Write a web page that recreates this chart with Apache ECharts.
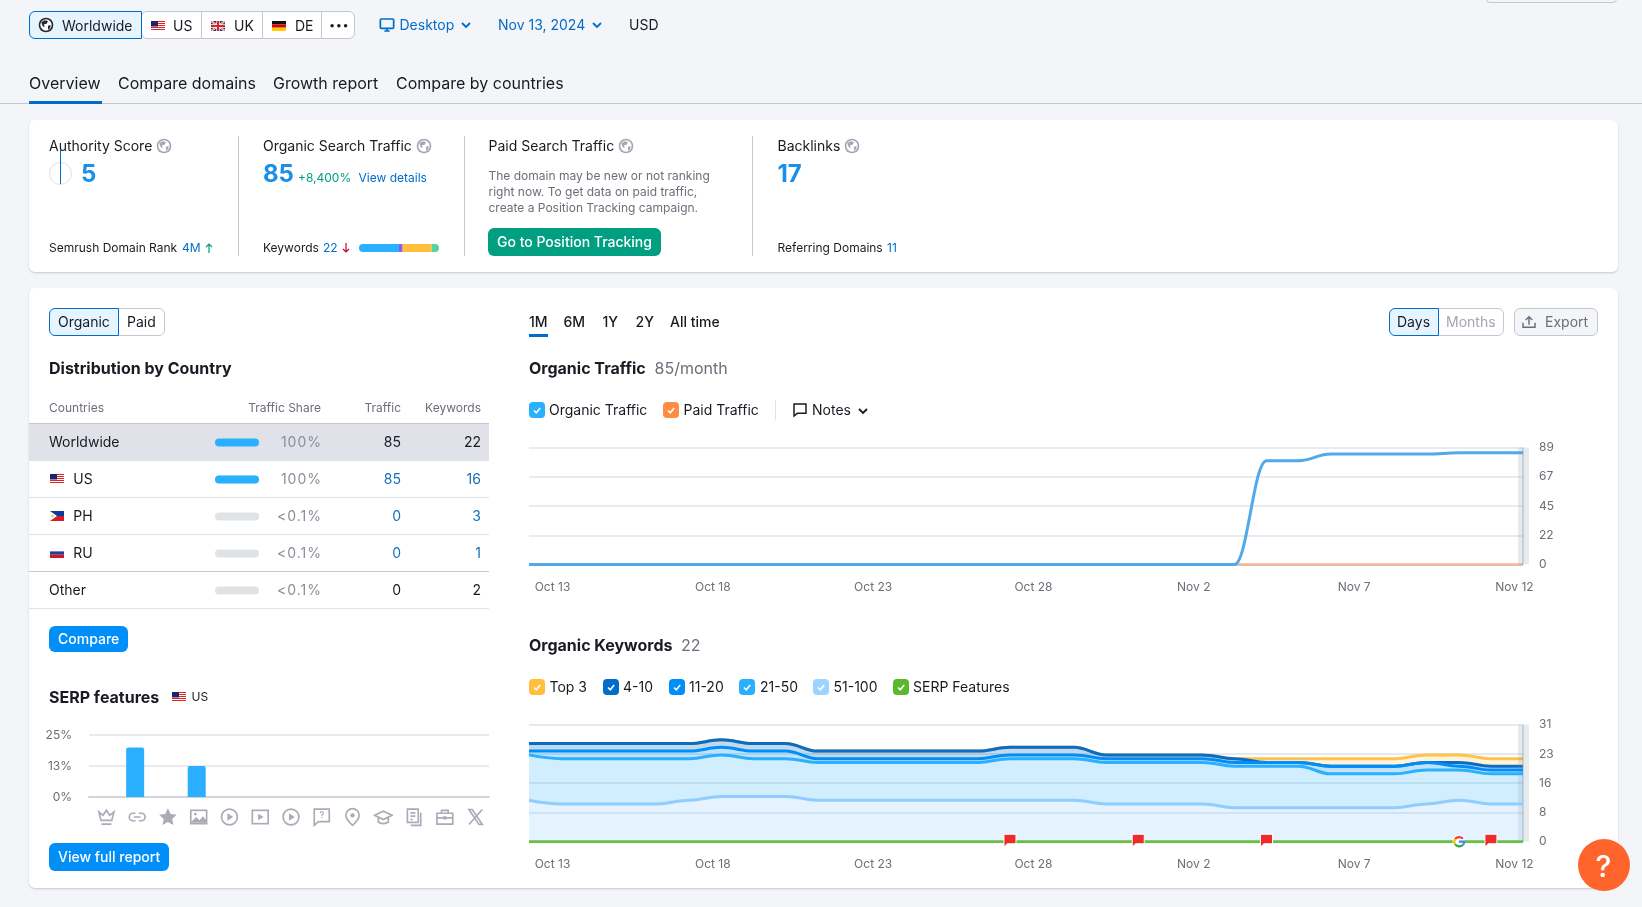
<!DOCTYPE html>
<html>
<head>
<meta charset="utf-8">
<title>Domain overview</title>
<script src="https://cdn.jsdelivr.net/npm/echarts@6/dist/echarts.min.js"></script>
<style>
html, body { margin: 0; padding: 0; width: 1642px; height: 907px; overflow: hidden; background: #f4f5f9; font-family: Inter, "Noto Sans", sans-serif; color: #191b23; }
#main { position: absolute; left: 0; top: 0; width: 1642px; height: 907px; z-index: 2; }
.b { position: absolute; box-sizing: border-box; z-index: 1; }
.t { position: absolute; white-space: nowrap; z-index: 3; line-height: 1; transform: translateY(-50%); }
.i { position: absolute; z-index: 3; }
.i svg { display: block; }
</style>
</head>
<body>
<div id="main"></div>
<script>
var days = ['Oct 13', 'Oct 14', 'Oct 15', 'Oct 16', 'Oct 17', 'Oct 18', 'Oct 19', 'Oct 20', 'Oct 21', 'Oct 22', 'Oct 23', 'Oct 24', 'Oct 25', 'Oct 26', 'Oct 27', 'Oct 28', 'Oct 29', 'Oct 30', 'Oct 31', 'Nov 1', 'Nov 2', 'Nov 3', 'Nov 4', 'Nov 5', 'Nov 6', 'Nov 7', 'Nov 8', 'Nov 9', 'Nov 10', 'Nov 11', 'Nov 12', 'Nov 13'];
var organicTraffic = [0, 0, 0, 0, 0, 0, 0, 0, 0, 0, 0, 0, 0, 0, 0, 0, 0, 0, 0, 0, 0, 0, 0, 79, 79, 84, 84, 84, 84, 85, 85, 85];
var paidTraffic = [0, 0, 0, 0, 0, 0, 0, 0, 0, 0, 0, 0, 0, 0, 0, 0, 0, 0, 0, 0, 0, 0, 0, 0, 0, 0, 0, 0, 0, 0, 0, 0];
var kwTop3 = [0, 0, 0, 0, 0, 0, 0, 0, 0, 0, 0, 0, 0, 0, 0, 0, 0, 0, 0, 0, 0, 0, 0, 1, 1, 2, 2, 2, 2, 2, 2, 2];
var kw4to10 = [2, 2, 2, 2, 2, 2, 2, 2, 2, 2, 2, 2, 2, 2, 2, 2, 2, 2, 1, 1, 1, 1, 1, 0, 0, 0, 0, 0, 0, 1, 1, 1];
var kw11to20 = [1, 2, 2, 2, 2, 2, 2, 2, 2, 1, 1, 1, 1, 1, 1, 1, 1, 1, 1, 1, 1, 1, 1, 1, 1, 2, 2, 2, 2, 1, 1, 1];
var kw21to50 = [12, 12, 12, 12, 12, 11, 11, 10, 10, 10, 10, 10, 10, 10, 10, 11, 11, 11, 11, 11, 11, 11, 11, 11, 11, 9, 9, 9, 9, 8, 8, 8];
var kw51to100 = [11, 10, 10, 10, 10, 11, 12, 12, 12, 11, 11, 11, 11, 11, 11, 11, 11, 11, 10, 10, 10, 10, 9, 9, 9, 9, 9, 9, 10, 11, 10, 10];
var serpLine = [0, 0, 0, 0, 0, 0, 0, 0, 0, 0, 0, 0, 0, 0, 0, 0, 0, 0, 0, 0, 0, 0, 0, 0, 0, 0, 0, 0, 0, 0, 0, 0];
var noteDays = ['Oct 28', 'Nov 1', 'Nov 5', 'Nov 12'];
var googleDays = ['Nov 11'];
var serpFeatures = ['Featured snippet', 'Sitelinks', 'Reviews', 'Image', 'Video', 'Featured video', 'Trending videos', 'People also ask', 'Local pack', 'Knowledge panel', 'Top stories', 'Jobs', 'X'];
var serpShare = [0, 20, 0, 12.5, 0, 0, 0, 0, 0, 0, 0, 0, 0];
var countries = ['Worldwide', 'US', 'PH', 'RU', 'Other'];
var countryShare = [100, 100, 0.05, 0.05, 0.05];
var countryShareText = ['100%', '100%', '<0.1%', '<0.1%', '<0.1%'];
var countryTraffic = [85, 85, 0, 0, 0];
var countryKeywords = [22, 16, 3, 1, 2];
var keywordMix = [11, 1, 8, 2];
var keywordMixColors = ['#2bafff', '#8b5fe0', '#ffbf3d', '#59d3a0'];

var GRAY = '#6c6e79', BLUE = '#006dca', LINE = '#c4c7cf', LIGHT = '#e0e1e9';

function box(x, y, w, h, style) {
	var d = document.createElement('div');
	d.className = 'b';
	d.style.cssText = 'left:' + x + 'px;top:' + y + 'px;width:' + w + 'px;height:' + h + 'px;' + (style || '');
	document.body.appendChild(d);
}
function text(x, y, s, style) {
	var d = document.createElement('div');
	d.className = 't';
	d.textContent = s;
	d.style.cssText = 'left:' + x + 'px;top:' + y + 'px;font-size:14px;' + (style || '');
	document.body.appendChild(d);
}
function textR(x, y, s, style) {
	text(x, y, s, 'left:auto;right:' + (1642 - x) + 'px;' + (style || ''));
}
function icon(x, y, w, h, inner, vb) {
	var d = document.createElement('div');
	d.className = 'i';
	d.style.cssText = 'left:' + x + 'px;top:' + y + 'px;width:' + w + 'px;height:' + h + 'px;';
	d.innerHTML = '<svg xmlns="http://www.w3.org/2000/svg" width="' + w + '" height="' + h + '" viewBox="' + (vb || '0 0 24 24') + '">' + inner + '</svg>';
	document.body.appendChild(d);
}

var flags = {
	US: '<rect width="14" height="10" fill="#fff"/><path d="M0 .5h14M0 2.5h14M0 4.5h14M0 6.5h14M0 8.5h14" stroke="#d22" stroke-width="1"/><rect width="7" height="5.5" fill="#226"/>',
	UK: '<rect width="14" height="10" fill="#236"/><path d="M0 0l14 10M14 0L0 10" stroke="#fff" stroke-width="2"/><path d="M0 0l14 10M14 0L0 10" stroke="#d22" stroke-width=".7"/><path d="M7 0v10M0 5h14" stroke="#fff" stroke-width="3.4"/><path d="M7 0v10M0 5h14" stroke="#d22" stroke-width="2"/>',
	DE: '<rect width="14" height="3.4" fill="#111"/><rect y="3.4" width="14" height="3.3" fill="#d00"/><rect y="6.7" width="14" height="3.3" fill="#fc0"/>',
	PH: '<rect width="14" height="5" fill="#0a3ca0"/><rect y="5" width="14" height="5" fill="#d2202a"/><path d="M0 0l7 5-7 5z" fill="#fff"/><circle cx="2.4" cy="5" r="1.3" fill="#fc0"/>',
	RU: '<rect width="14" height="3.4" fill="#fff" stroke="#ddd" stroke-width=".3"/><rect y="3.4" width="14" height="3.3" fill="#1c3fa8"/><rect y="6.7" width="14" height="3.3" fill="#d8141e"/>'
};
function flag(code, x, y) {
	icon(x, y, 14, 10, flags[code], '0 0 14 10');
}
function globe(cx, cy, color, size) {
	var inner = '<circle cx="12" cy="12" r="11" fill="' + color + '"/><circle cx="12" cy="12" r="8.500" fill="#fff"/><path d="M5 8l5-3 5 1-2 4-4 1 1 4-3-1zM15 13l4-1-1 5-3 2z" fill="' + color + '"/>';
	icon(cx - size / 2, cy - size / 2, size, size, inner);
}
function checkbox(x, y, color) {
	box(x, y - 8, 16, 16, 'background:' + color + ';border-radius:4px;');
	icon(x + 3, y - 5, 10, 10, '<path d="M2 5.500l2.300 2.300L8.200 3" fill="none" stroke="#fff" stroke-width="1.600"/>', '0 0 10 10');
}
function chevron(x, y, color) {
	icon(x, y - 5, 10, 10, '<path d="M1 3l4 4 4-4" fill="none" stroke="' + color + '" stroke-width="1.800"/>', '0 0 10 10');
}

// page chrome
box(1486, -8, 131, 11, 'background:#f4f5f9;border:1px solid ' + LINE + ';border-radius:4px;');
box(141, 11, 214, 28, 'background:#fff;border:1px solid ' + LINE + ';border-radius:6px;');
box(29, 11, 113, 28, 'background:#e5f4ff;border:1px solid ' + BLUE + ';border-radius:6px 0 0 6px;');
box(201, 12, 1, 26, 'background:' + LINE);
box(262, 12, 1, 26, 'background:' + LINE);
box(321, 12, 1, 26, 'background:' + LINE);
globe(45.5, 25, '#25272f', 16);
text(62, 25.5, 'Worldwide');
flag('US', 151, 21); text(173, 25.5, 'US');
flag('UK', 210.5, 21); text(234, 25.5, 'UK');
flag('DE', 272, 21); text(295, 25.5, 'DE');
text(329, 25, '•••', 'font-size:11px;letter-spacing:.5px;');
icon(379, 16, 16, 18, '<rect x="2" y="3" width="20" height="14" rx="1.500" fill="none" stroke="' + BLUE + '" stroke-width="2.600"/><path d="M8 21h8M12 17v4" stroke="' + BLUE + '" stroke-width="2.600"/>');
text(399.5, 25, 'Desktop', 'color:' + BLUE);
chevron(461, 25, BLUE);
text(498, 25, 'Nov 13, 2024', 'color:' + BLUE);
chevron(592, 25, BLUE);
text(629, 25, 'USD');
text(29, 82.5, 'Overview', 'font-size:16px;');
text(118, 82.5, 'Compare domains', 'font-size:16px;');
text(273, 82.5, 'Growth report', 'font-size:16px;');
text(396, 82.5, 'Compare by countries', 'font-size:16px;');
box(0, 103, 1642, 1, 'background:' + LINE);
box(29, 101, 73, 3, 'background:' + BLUE);

// summary card
box(29, 120, 1589, 152, 'background:#fff;border-radius:6px;box-shadow:0 1px 2px rgba(25,27,35,.2);');
box(238, 136, 1, 120, 'background:' + LINE);
box(463.5, 136, 1, 120, 'background:' + LINE);
box(752, 136, 1, 120, 'background:' + LINE);
text(49, 146, 'Authority Score');
globe(164, 146, '#a4a6b3', 16);
box(49, 161.5, 23, 23, 'border:1px solid #dfe1e7;border-radius:50%;');
box(60.3, 150, 1, 34, 'background:' + BLUE);
text(81, 174, '5', 'font-size:24px;font-weight:700;color:#1a8fe8;');
text(263, 146, 'Organic Search Traffic');
globe(424, 146, '#a4a6b3', 16);
text(263, 174, '85', 'font-size:24px;font-weight:700;color:#1a8fe8;');
text(298, 178, '+8,400%', 'font-size:12px;color:#009f81;');
text(358.5, 178, 'View details', 'font-size:12px;color:' + BLUE);
text(488.5, 146, 'Paid Search Traffic');
globe(626, 146, '#a4a6b3', 16);
text(488.5, 176, 'The domain may be new or not ranking', 'font-size:12px;color:' + GRAY);
text(488.5, 192, 'right now. To get data on paid traffic,', 'font-size:12px;color:' + GRAY);
text(488.5, 208, 'create a Position Tracking campaign.', 'font-size:12px;color:' + GRAY);
box(488, 228, 173, 28, 'background:#009f81;border-radius:6px;');
text(497, 242, 'Go to Position Tracking', 'color:#fff;font-weight:500;');
text(777.5, 146, 'Backlinks');
globe(852, 146, '#a4a6b3', 16);
text(777.5, 174, '17', 'font-size:24px;font-weight:700;color:#1a8fe8;');
text(49, 248, 'Semrush Domain Rank', 'font-size:12px;');
text(182, 248, '4M', 'font-size:12px;color:' + BLUE);
icon(204, 242, 10, 12, '<path d="M5 11V2M2 5l3-3 3 3" fill="none" stroke="#009f81" stroke-width="1.200"/>', '0 0 10 12');
text(263, 248, 'Keywords', 'font-size:12px;');
text(323, 248, '22', 'font-size:12px;color:' + BLUE);
icon(341, 242, 10, 12, '<path d="M5 1v9M2 7l3 3 3-3" fill="none" stroke="#d1002f" stroke-width="1.200"/>', '0 0 10 12');
text(777.5, 248, 'Referring Domains', 'font-size:12px;');
text(887, 248, '11', 'font-size:12px;color:' + BLUE);

// main card
box(29, 287.5, 1589, 600.5, 'background:#fff;border-radius:6px;box-shadow:0 1px 2px rgba(25,27,35,.2);');
box(118, 308, 47, 28, 'border:1px solid ' + LINE + ';border-radius:0 6px 6px 0;');
box(49, 308, 70, 28, 'background:#e5f4ff;border:1px solid ' + BLUE + ';border-radius:6px 0 0 6px;');
text(58, 321.5, 'Organic');
text(127, 321.5, 'Paid');
text(49, 367.5, 'Distribution by Country', 'font-size:16px;font-weight:700;');
text(49, 408, 'Countries', 'font-size:12px;color:' + GRAY);
textR(321, 408, 'Traffic Share', 'font-size:12px;color:' + GRAY);
textR(401, 408, 'Traffic', 'font-size:12px;color:' + GRAY);
textR(481, 408, 'Keywords', 'font-size:12px;color:' + GRAY);
box(29, 423, 460, 1, 'background:' + LINE);
box(29, 424, 460, 37, 'background:' + LIGHT);
[497, 534, 608].forEach(function(y) { box(29, y, 460, 1, 'background:' + LIGHT); });
box(29, 571, 460, 1, 'background:' + LINE);
countries.forEach(function(name, r) {
	var y = 441.5 + r * 37, linked = r > 0 && r < 4;
	if (flags[name]) {
		flag(name, 50, y - 4.5);
		text(73.3, y, name);
	} else {
		text(49, y, name);
	}
	textR(322, y, countryShareText[r], 'color:#8b8d99;letter-spacing:1px;');
	textR(401, y, String(countryTraffic[r]), linked ? 'color:#1a6fbd;' : '');
	textR(481, y, String(countryKeywords[r]), linked ? 'color:#1a6fbd;' : '');
});
box(49, 626, 79, 26, 'background:#008ff8;border-radius:6px;');
text(58, 639, 'Compare', 'color:#fff;font-weight:500;');
text(49, 697, 'SERP features', 'font-size:16px;font-weight:700;');
flag('US', 172, 692);
text(191.5, 697, 'US', 'font-size:12px;');
box(49, 843, 120, 28, 'background:#008ff8;border-radius:6px;');
text(58, 857, 'View full report', 'color:#fff;font-weight:500;');

text(529, 321.5, '1M', 'font-weight:500;');
box(529, 334, 19, 3, 'background:' + BLUE);
text(563.5, 321.5, '6M', 'font-weight:500;');
text(602.5, 321.5, '1Y', 'font-weight:500;');
text(635.5, 321.5, '2Y', 'font-weight:500;');
text(670, 321.5, 'All time', 'font-weight:500;');
box(1438, 308, 66, 28, 'border:1px solid ' + LINE + ';border-radius:0 6px 6px 0;');
box(1388.5, 308, 50, 28, 'background:#e5f4ff;border:1px solid ' + BLUE + ';border-radius:6px 0 0 6px;');
text(1397, 321.5, 'Days');
text(1446, 321.5, 'Months', 'color:#a4a6b3;');
box(1513.5, 308, 84.5, 28, 'background:#f4f5f9;border:1px solid ' + LINE + ';border-radius:6px;');
icon(1521, 314, 16, 16, '<path d="M3 13v7h18v-7M12 16V4M7 9l5-5 5 5" fill="none" stroke="' + GRAY + '" stroke-width="2.200"/>');
text(1545, 321.5, 'Export', 'color:' + GRAY);
text(529, 367.5, 'Organic Traffic', 'font-size:16px;font-weight:700;');
text(654.5, 367.5, '85/month', 'font-size:16px;color:' + GRAY);
checkbox(529, 410, '#2bafff');
text(549, 410, 'Organic Traffic');
checkbox(663, 410, '#ff8c43');
text(683.5, 410, 'Paid Traffic');
box(775, 400, 1, 20, 'background:' + LIGHT);
icon(792, 402, 16, 16, '<path d="M3 3h18v14H8l-5 4z" fill="none" stroke="#191b23" stroke-width="2.200"/>');
text(812, 409.5, 'Notes');
chevron(858, 411, '#191b23');
text(529, 644.5, 'Organic Keywords', 'font-size:16px;font-weight:700;');
text(681, 644.5, '22', 'font-size:16px;color:' + GRAY);
[[529, 549.5, '#ffbf3d', 'Top 3'], [603, 623, '#006dca', '4-10'], [669, 689, '#008ff8', '11-20'], [739, 760, '#2bafff', '21-50'], [813, 833.5, '#9ed2ff', '51-100'], [893, 913, '#59b82c', 'SERP Features']].forEach(function(k) {
	checkbox(k[0], 687, k[2]);
	text(k[1], 687, k[3]);
});
box(1578, 839, 52, 52, 'background:#ff642d;border-radius:50%;z-index:3;');
text(1595.5, 865.5, '?', 'font-size:30px;font-weight:500;color:#fff;');

// SERP icons, used as category labels
var ic = 'fill="none" stroke="#a9abb7" stroke-width="2"';
var serpIcons = [
	'<path d="M3 6l5 4 4-6 4 6 5-4-2.500 10H5.500zM6 20.500h12" ' + ic + '/>',
	'<path d="M10 7.500H7a4.500 4.500 0 000 9h3M14 7.500h3a4.500 4.500 0 010 9h-3M8 12h8" ' + ic + '/>',
	'<path d="M12 1.500l3.200 7 7.300.800-5.400 5 1.500 7.400-6.600-3.700-6.600 3.700 1.500-7.400-5.400-5 7.300-.800z" fill="#a9abb7"/>',
	'<rect x="2.500" y="4" width="19" height="16" ' + ic + '/><path d="M3 18l6-6 4 4 4-5 4 5v3H3z" fill="#a9abb7"/><circle cx="8" cy="8.500" r="1.700" fill="#a9abb7"/>',
	'<circle cx="12" cy="12" r="9.500" ' + ic + '/><path d="M9.500 7.500l7 4.500-7 4.500z" fill="#a9abb7"/>',
	'<rect x="2.500" y="4" width="19" height="16" ' + ic + '/><path d="M9.500 8l6.500 4-6.500 4z" fill="#a9abb7"/>',
	'<circle cx="12" cy="12" r="9.500" ' + ic + '/><path d="M9.500 7.500l7 4.500-7 4.500z" fill="#a9abb7"/>',
	'<path d="M3 2.500h18v15H8l-5 4.500z" ' + ic + '/><path d="M10.200 7.500a1.800 1.800 0 113 1.300c-.7.600-1.200.9-1.200 1.800M12 12v1.300" fill="none" stroke="#a9abb7" stroke-width="1.400"/>',
	'<path d="M12 2a8 8 0 018 8c0 5-8 12-8 12s-8-7-8-12a8 8 0 018-8z" ' + ic + '/><circle cx="12" cy="10" r="2.600" fill="#a9abb7"/>',
	'<path d="M1.500 10L12 5l10.500 5L12 15zM6 13v5c3 2.500 9 2.500 12 0v-5" ' + ic + '/>',
	'<path d="M4 2.500h13v16H4zM7.500 7h6M7.500 11h6M7.500 15h3M20 7v15H8" ' + ic + '/>',
	'<path d="M8 7V4h8v3M2.500 7.500h19v13h-19zM2.500 13h19" ' + ic + '/><rect x="10" y="11" width="4" height="4" fill="#a9abb7"/>',
	'<path d="M4 3h4l12 18h-4zM20 3L4 21" ' + ic + '/>'
];
var serpRich = {};
serpIcons.forEach(function(s, i) {
	var svg = '<svg xmlns="http://www.w3.org/2000/svg" width="48" height="48" viewBox="0 0 24 24">' + s + '</svg>';
	serpRich['i' + i] = { width: 20, height: 20, backgroundColor: { image: 'data:image/svg+xml;charset=utf-8,' + encodeURIComponent(svg) } };
});

var googleSvg = '<svg xmlns="http://www.w3.org/2000/svg" width="48" height="48" viewBox="0 0 24 24"><circle cx="12" cy="12" r="12" fill="#fff"/><g fill="none" stroke-width="4"><path d="M19.500 6.500A10 10 0 005 7" stroke="#ea4335"/><path d="M5 7a10 10 0 000 10" stroke="#fbbc05"/><path d="M5 17a10 10 0 0014.500 1" stroke="#34a853"/><path d="M19.500 18a10 10 0 002.500-6H12" stroke="#4285f4"/></g></svg>';
var googleIcon = 'image://data:image/svg+xml;charset=utf-8,' + encodeURIComponent(googleSvg);
var flagPath = 'path://M0 0H10V8H3L0 11Z';

var axisText = { color: GRAY, fontSize: 12, fontFamily: 'Inter' };

function dayAxis(gridIndex) {
	return {
		type: 'category', gridIndex: gridIndex, data: days, boundaryGap: false,
		axisLine: { show: false }, axisTick: { show: false }, splitLine: { show: false },
		axisLabel: Object.assign({ interval: 4, margin: 17, padding: [0, 0, 0, 47] }, axisText)
	};
}
function countAxis(gridIndex, max, interval, lineWidth, lineColor) {
	return {
		type: 'value', gridIndex: gridIndex, position: 'right', min: 0, max: max, interval: interval,
		axisLine: { show: false }, axisTick: { show: false },
		splitLine: { lineStyle: { color: lineColor, width: lineWidth } },
		axisLabel: Object.assign({ margin: 16, formatter: function(v) { return Math.round(v); } }, axisText)
	};
}
function lastDayBand() {
	return {
		silent: true, symbol: 'none', animation: false, label: { show: false },
		data: [
			{ xAxis: days[days.length - 1], lineStyle: { color: 'rgba(130,145,155,.18)', width: 11, type: 'solid' } },
			{ xAxis: days[days.length - 1], lineStyle: { color: 'rgba(130,145,155,.3)', width: 2, type: 'solid' } }
		]
	};
}
function keywordSeries(name, data, color, z, fillOpacity) {
	return {
		name: name, type: 'line', xAxisIndex: 1, yAxisIndex: 1, stack: 'keywords', data: data, z: z,
		smooth: 0.4, smoothMonotone: 'x', showSymbol: false,
		lineStyle: { color: color, width: 3 },
		itemStyle: { color: color },
		areaStyle: { color: color, opacity: fillOpacity }
	};
}
function mixSeries(i) {
	var last = keywordMix.length - 1;
	return {
		type: 'bar', xAxisIndex: 4, yAxisIndex: 4, stack: 'mix', barWidth: 8, data: [keywordMix[i]],
		itemStyle: { color: keywordMixColors[i], borderRadius: i === 0 ? [4, 0, 0, 4] : i === last ? [0, 4, 4, 0] : 0 }
	};
}

var series = [
	{
		name: 'Paid Traffic', type: 'line', data: paidTraffic, z: 3,
		showSymbol: false, lineStyle: { color: 'rgba(235,130,70,.45)', width: 3 }
	},
	{
		name: 'Organic Traffic', type: 'line', data: organicTraffic, z: 4,
		smooth: 0.4, smoothMonotone: 'x', showSymbol: false,
		lineStyle: { color: '#52a9ea', width: 3 }, itemStyle: { color: '#52a9ea' },
		markLine: lastDayBand()
	},
	keywordSeries('51-100', kw51to100, '#8fcdff', 7, 0.24),
	keywordSeries('21-50', kw21to50, '#2bafff', 6, 0.215),
	keywordSeries('11-20', kw11to20, '#008ff8', 5, 0.25),
	keywordSeries('4-10', kw4to10, '#0a6cc2', 4, 0.26),
	keywordSeries('Top 3', kwTop3, '#ffc24d', 3, 0.2),
	{
		name: 'SERP Features', type: 'line', xAxisIndex: 1, yAxisIndex: 1, data: serpLine, z: 8,
		showSymbol: false, lineStyle: { color: '#6cbd45', width: 3 }, itemStyle: { color: '#6cbd45' },
		markLine: lastDayBand(),
		markPoint: {
			z: 20, silent: true, animation: false, label: { show: false },
			data: noteDays.map(function(d) {
				return { coord: [d, 0], symbol: flagPath, symbolSize: [12, 13], symbolOffset: [0, -1], itemStyle: { color: '#ee2b2b', borderColor: '#fff', borderWidth: 1 } };
			}).concat(googleDays.map(function(d) {
				return { coord: [d, 0], symbol: googleIcon, symbolSize: [13, 13], symbolOffset: [0, 0] };
			}))
		}
	},
	{
		name: 'SERP features', type: 'bar', xAxisIndex: 2, yAxisIndex: 2, data: serpShare, barWidth: 18,
		itemStyle: { color: '#2bafff', borderRadius: [2, 2, 0, 0] }
	},
	{
		name: 'Traffic Share', type: 'bar', xAxisIndex: 3, yAxisIndex: 3, data: countryShare, barWidth: 8,
		showBackground: true, backgroundStyle: { color: '#e0e3e6', borderRadius: 4 },
		itemStyle: {
			borderRadius: 4,
			color: function(p) { return p.value >= 1 ? '#2bafff' : '#e0e3e6'; }
		}
	}
].concat(keywordMix.map(function(v, i) { return mixSeries(i); }));

var chart = echarts.init(document.getElementById('main'), null, { renderer: 'canvas' });
chart.setOption({
	animation: false,
	backgroundColor: 'transparent',
	textStyle: { fontFamily: 'Inter' },
	grid: [
		{ left: 529, top: 447.5, width: 994, height: 117 },
		{ left: 529, top: 724.7, width: 994, height: 117 },
		{ left: 89, top: 735, width: 400, height: 62 },
		{ left: 215, top: 424, width: 44, height: 185 },
		{ left: 359, top: 244, width: 80, height: 8 }
	],
	xAxis: [
		dayAxis(0),
		dayAxis(1),
		{
			type: 'category', gridIndex: 2, data: serpFeatures,
			axisLine: { lineStyle: { color: '#d1d4db', width: 2 } }, axisTick: { show: false },
			axisLabel: {
				interval: 0, margin: 10, padding: [0, 0, 0, 4], rich: serpRich,
				formatter: function(v) { return '{i' + serpFeatures.indexOf(v) + '|}'; }
			}
		},
		{ type: 'value', gridIndex: 3, min: 0, max: 100, show: false },
		{ type: 'value', gridIndex: 4, min: 0, max: 22, show: false }
	],
	yAxis: [
		countAxis(0, 89, 22.25, 2, '#e9eaef'),
		countAxis(1, 31, 7.75, 1.5, '#dde3e9'),
		{
			type: 'value', gridIndex: 2, min: 0, max: 25, interval: 12.5,
			axisLine: { show: false }, axisTick: { show: false },
			splitLine: { lineStyle: { color: '#e9eaef', width: 2 } },
			axisLabel: Object.assign({ margin: 17, formatter: function(v) { return Math.round(v) + '%'; } }, axisText)
		},
		{ type: 'category', gridIndex: 3, data: countries, inverse: true, show: false },
		{ type: 'category', gridIndex: 4, data: ['Keywords'], show: false }
	],
	series: series
});
</script>
</body>
</html>
